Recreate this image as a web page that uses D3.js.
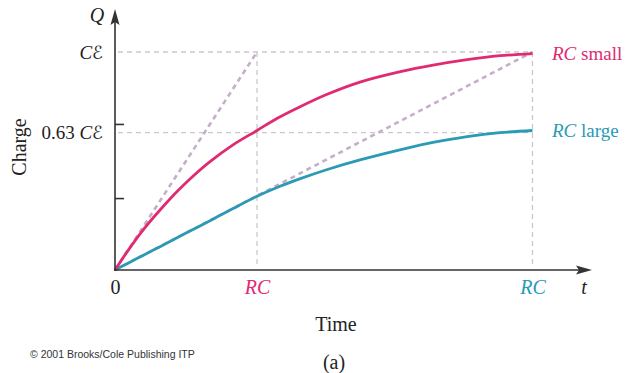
<!DOCTYPE html>
<html>
<head>
<meta charset="utf-8">
<script src="https://cdn.jsdelivr.net/npm/d3@7/dist/d3.min.js"></script>
<style>
  html, body { margin: 0; padding: 0; background: #fff; }
  svg { display: block; }
</style>
</head>
<body>
<svg id="chart" width="625" height="373"></svg>
<script>
// Time in units of the small time constant; charge as a fraction of C·ℰ
const tRCsmall = 1;
const tRClarge = 2.94;
const tMax = 3.345;

const smallT = [0, 0.085, 0.197, 0.317, 0.437, 0.549, 0.669, 0.831, 1.0, 1.14, 1.30, 1.49, 1.725, 2.01, 2.24, 2.48, 2.71, 2.94];
const smallQ = [0, 0.083, 0.183, 0.275, 0.360, 0.430, 0.497, 0.574, 0.640, 0.695, 0.748, 0.805, 0.862, 0.910, 0.940, 0.965, 0.983, 0.993];

const largeT = [0, 0.085, 0.197, 0.317, 0.437, 0.549, 0.669, 0.831, 1.0, 1.162, 1.30, 1.49, 1.725, 2.08, 2.24, 2.48, 2.71, 2.94];
const largeQ = [0, 0.029, 0.067, 0.107, 0.148, 0.186, 0.226, 0.282, 0.338, 0.384, 0.418, 0.460, 0.505, 0.563, 0.585, 0.612, 0.630, 0.640];

const yLevels = [1, 0.63];           // labelled charge levels
const yLevelLabels = ["", "0.63 "];  // prefix before C·ℰ
const yTickMarks = [0.33, 0.67];     // small tick marks on the Q axis
const xTickValues = [0, tRCsmall, tRClarge];
const xTickLabels = ["0", "RC", "RC"];

const pink = "#e02a72";
const blue = "#2b9ab5";
const guide = "#c9c9cc";
const tangent = "#c4aec8";
const axisCol = "#333";
const serif = "'Liberation Serif', 'Times New Roman', serif";

const svg = d3.select("#chart");
const x = d3.scaleLinear().domain([0, tMax]).range([115, 590]);
const y = d3.scaleLinear().domain([0, 1]).range([270, 52]);

// dashed guide lines
const guides = svg.append("g").attr("stroke", guide).attr("stroke-width", 1.3)
  .attr("stroke-dasharray", "5,4").attr("fill", "none");
yLevels.forEach(q => {
  guides.append("line").attr("x1", x(0) + 3).attr("x2", x(tRClarge))
    .attr("y1", y(q)).attr("y2", y(q));
});
[tRCsmall, tRClarge].forEach(t => {
  guides.append("line").attr("x1", x(t)).attr("x2", x(t))
    .attr("y1", y(1)).attr("y2", y(0) - 2);
});

// initial-slope tangents
const tang = svg.append("g").attr("stroke", tangent).attr("stroke-width", 2.6)
  .attr("stroke-dasharray", "5,4").attr("fill", "none");
[tRCsmall, tRClarge].forEach(t => {
  tang.append("line").attr("x1", x(0)).attr("y1", y(0))
    .attr("x2", x(t)).attr("y2", y(1));
});

// charging curves
const line = d3.line().x(d => x(d[0])).y(d => y(d[1])).curve(d3.curveCatmullRom.alpha(0.5));
svg.append("path").datum(largeT.map((t, i) => [t, largeQ[i]]))
  .attr("d", line).attr("fill", "none").attr("stroke", blue).attr("stroke-width", 2.8);
svg.append("path").datum(smallT.map((t, i) => [t, smallQ[i]]))
  .attr("d", line).attr("fill", "none").attr("stroke", pink).attr("stroke-width", 2.8);

// axes with arrows
const ax = svg.append("g");
ax.append("line").attr("x1", x(0)).attr("x2", x(0)).attr("y1", y(0) + 1).attr("y2", 20)
  .attr("stroke", axisCol).attr("stroke-width", 1.6);
ax.append("path").attr("d", `M${x(0)},9 L${x(0) - 4.5},25 L${x(0)},22 L${x(0) + 4.5},25 Z`).attr("fill", axisCol);
ax.append("line").attr("x1", x(0) - 1).attr("x2", 580).attr("y1", y(0)).attr("y2", y(0))
  .attr("stroke", axisCol).attr("stroke-width", 1.6);
ax.append("path").attr("d", `M592,${y(0)} L576,${y(0) - 4.5} L579,${y(0)} L576,${y(0) + 4.5} Z`).attr("fill", axisCol);

// tick marks on the Q axis
const yTicks = svg.append("g").attr("transform", `translate(${x(0)},0)`)
  .call(d3.axisRight(y).tickValues(yTickMarks).tickSize(9).tickFormat(""));
yTicks.select(".domain").remove();
yTicks.selectAll(".tick line").attr("stroke", axisCol).attr("stroke-width", 1.6);

// labelled charge levels
const yLab = svg.append("g").attr("transform", `translate(${x(0) - 12},0)`)
  .call(d3.axisLeft(y).tickValues(yLevels).tickSize(0).tickPadding(0));
yLab.select(".domain").remove();
yLab.selectAll(".tick text").each(function(d, i) {
  const t = d3.select(this).text(null)
    .style("font-family", serif).style("font-size", "19px")
    .attr("fill", "#222").attr("dy", "0.33em");
  if (yLevelLabels[i]) t.append("tspan").text(yLevelLabels[i]);
  t.append("tspan").style("font-style", "italic").text("C");
  t.append("tspan").style("font-family", "'DejaVu Sans', sans-serif").style("font-size", "18px").text("ℰ");
});

// time axis labels
const xLab = svg.append("g").attr("transform", `translate(0,${y(0)})`)
  .call(d3.axisBottom(x).tickValues(xTickValues).tickSize(0).tickPadding(10));
xLab.select(".domain").remove();
const xLabCol = ["#222", pink, blue];
xLab.selectAll(".tick text").each(function(d, i) {
  d3.select(this).text(xTickLabels[i])
    .style("font-family", serif).style("font-size", "20px")
    .style("font-style", i ? "italic" : "normal").attr("fill", xLabCol[i]);
});

// axis titles and symbols
function label(px, py, txt, opts = {}) {
  return svg.append("text").attr("x", px).attr("y", py).attr("text-anchor", "middle")
    .style("font-family", serif).style("font-size", "20px")
    .style("font-style", opts.italic ? "italic" : "normal")
    .attr("fill", "#222").text(txt);
}
label(97, 22, "Q", { italic: true });
label(584, 294, "t", { italic: true });
label(0, 0, "Charge").attr("transform", "translate(26,147) rotate(-90)");
label(336, 331, "Time");
label(334, 369, "(a)");

// series labels
function seriesLabel(txt, q, col) {
  const t = svg.append("text").attr("x", 552).attr("y", y(q)).attr("dy", "0.33em")
    .style("font-family", serif).style("font-size", "19px").attr("fill", col);
  t.append("tspan").style("font-style", "italic").text("RC");
  t.append("tspan").text(" " + txt);
}
seriesLabel("small", smallQ[smallQ.length - 1], pink);
seriesLabel("large", largeQ[largeQ.length - 1], blue);

svg.append("text").attr("x", 30).attr("y", 358)
  .style("font-family", "'Liberation Sans', Arial, sans-serif").style("font-size", "10.5px")
  .attr("fill", "#333").text("© 2001 Brooks/Cole Publishing ITP");
</script>
</body>
</html>
